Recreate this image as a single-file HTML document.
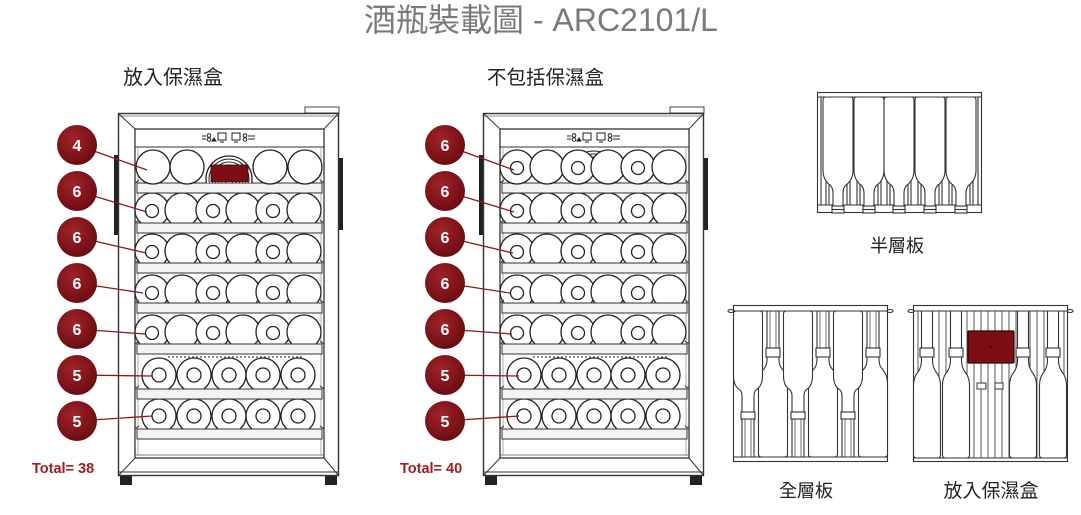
<!DOCTYPE html>
<html>
<head>
<meta charset="utf-8">
<style>
html,body{margin:0;padding:0;background:#fff;}
svg{display:block;}
.cjk{font-family:"Liberation Sans","Noto Sans CJK TC",sans-serif;}
</style>
</head>
<body>
<svg width="1081" height="515" viewBox="0 0 1081 515" xmlns="http://www.w3.org/2000/svg">
<defs>
  <radialGradient id="mg" cx="40%" cy="35%" r="70%">
    <stop offset="0" stop-color="#a0242a"/>
    <stop offset="1" stop-color="#6a0a0f"/>
  </radialGradient>
  <g id="row6" stroke="#222" stroke-width="1.3" fill="#fff">
    <circle cx="152" cy="0" r="17"/>
    <circle cx="182" cy="0" r="17"/>
    <circle cx="213" cy="0" r="17"/>
    <circle cx="243" cy="0" r="17"/>
    <circle cx="273" cy="0" r="17"/>
    <circle cx="304" cy="0" r="17"/>
    <circle cx="152" cy="1" r="6.5"/>
    <circle cx="213" cy="1" r="6.5"/>
    <circle cx="273" cy="1" r="6.5"/>
  </g>
  <g id="row5" stroke="#222" stroke-width="1.3" fill="#fff">
    <circle cx="159" cy="0" r="17"/>
    <circle cx="194" cy="0" r="17"/>
    <circle cx="229" cy="0" r="17"/>
    <circle cx="263" cy="0" r="17"/>
    <circle cx="298" cy="0" r="17"/>
    <circle cx="159" cy="0" r="7"/>
    <circle cx="194" cy="0" r="7"/>
    <circle cx="229" cy="0" r="7"/>
    <circle cx="263" cy="0" r="7"/>
    <circle cx="298" cy="0" r="7"/>
  </g>
  <g id="shelf" stroke="#444" stroke-width="1.1">
    <rect x="137" y="0" width="185" height="10" fill="#f3f3f3"/>
    <line x1="135" y1="0" x2="139" y2="-3" />
    <line x1="324" y1="0" x2="320" y2="-3" />
  </g>
  <g id="F">
    <rect x="305" y="107" width="34" height="6" fill="#fff" stroke="#444" stroke-width="1"/>
    <rect x="114" y="155" width="4" height="80" fill="#222"/>
    <rect x="339" y="158" width="4" height="72" fill="#222"/>
    <rect x="120" y="476" width="12" height="9" fill="#222"/>
    <rect x="325" y="476" width="12" height="9" fill="#222"/>
    <rect x="118.5" y="113.5" width="220" height="362" fill="#fff" stroke="#333" stroke-width="1.4"/>
    <line x1="119" y1="116" x2="338" y2="116" stroke="#666" stroke-width="0.8"/>
    <line x1="119" y1="472" x2="338" y2="472" stroke="#333" stroke-width="1"/>
    <rect x="135" y="129" width="189" height="329" fill="#fff" stroke="#333" stroke-width="1.3"/>
    <line x1="135" y1="455" x2="324" y2="455" stroke="#555" stroke-width="0.8"/>
    <line x1="118.5" y1="113.5" x2="135" y2="129" stroke="#333" stroke-width="1"/>
    <line x1="338.5" y1="113.5" x2="324" y2="129" stroke="#333" stroke-width="1"/>
    <line x1="118.5" y1="475.5" x2="135" y2="458" stroke="#333" stroke-width="1"/>
    <line x1="338.5" y1="475.5" x2="324" y2="458" stroke="#333" stroke-width="1"/>
    <line x1="135" y1="147" x2="324" y2="147" stroke="#333" stroke-width="1.1"/>
    <line x1="138" y1="147" x2="138" y2="455" stroke="#888" stroke-width="0.7"/>
    <line x1="321" y1="147" x2="321" y2="455" stroke="#888" stroke-width="0.7"/>
    <g stroke="#222" stroke-width="1" fill="none">
      <line x1="202" y1="136" x2="206" y2="136"/><line x1="202" y1="139" x2="206" y2="139"/>
      <circle cx="209" cy="135.5" r="1.8"/><circle cx="209" cy="139.5" r="1.8"/>
      <path d="M212,141 l2,-3 l2,3z" fill="#222"/>
      <rect x="218" y="133" width="8" height="7"/><line x1="220" y1="142" x2="224" y2="142"/>
      <rect x="232" y="133" width="8" height="7"/><line x1="234" y1="142" x2="238" y2="142"/>
      <circle cx="245" cy="135.5" r="1.8"/><circle cx="245" cy="139.5" r="1.8"/>
      <line x1="248" y1="136" x2="255" y2="136"/><line x1="248" y1="139" x2="255" y2="139"/>
    </g>
    <use href="#row6" y="210"/>
    <use href="#row6" y="251"/>
    <use href="#row6" y="292"/>
    <use href="#row6" y="332"/>
    <use href="#row5" y="375"/>
    <use href="#row5" y="416"/>
    <use href="#shelf" y="183"/>
    <use href="#shelf" y="223"/>
    <use href="#shelf" y="263"/>
    <use href="#shelf" y="303"/>
    <use href="#shelf" y="344"/>
    <use href="#shelf" y="389"/>
    <use href="#shelf" y="429"/>
    <line x1="168" y1="357" x2="304" y2="357" stroke="#444" stroke-width="1.2" stroke-dasharray="2 2"/>
  </g>
  <clipPath id="fanclip1"><rect x="205" y="147" width="48" height="36"/></clipPath>
  <clipPath id="fanclip2"><rect x="555" y="147" width="80" height="11"/></clipPath>

  <g id="hb" stroke="#333" stroke-width="1.1" fill="#fff">
    <path d="M-15,100 Q-15,97 -12,97 L12,97 Q15,97 15,100 L15,170 Q15,180 8,185 Q5,188 5,193 L5,207 L-5,207 L-5,193 Q-5,188 -8,185 Q-15,180 -15,170 Z"/>
    <line x1="-9" y1="184" x2="-9" y2="205"/><line x1="-12" y1="181" x2="-12" y2="205"/>
    <line x1="9" y1="184" x2="9" y2="205"/><line x1="12" y1="181" x2="12" y2="205"/>
    <rect x="-6" y="206" width="12" height="7"/>
    <line x1="-6" y1="209.5" x2="6" y2="209.5"/>
  </g>
  <g id="ub" stroke="#333" stroke-width="1.1" fill="#fff">
    <path d="M-14.5,314 Q-14.5,311 -11.5,311 L11.5,311 Q14.5,311 14.5,314 L14.5,376 Q14.5,386 8,390 Q6,392 6,396 L6,457 L-6,457 L-6,396 Q-6,392 -8,390 Q-14.5,386 -14.5,376 Z"/>
    <rect x="-7" y="412" width="14" height="7"/>
    <line x1="-3" y1="419" x2="-3" y2="457" stroke-width="0.7"/>
    <line x1="3" y1="419" x2="3" y2="457" stroke-width="0.7"/>
  </g>
  <g id="sb" stroke="#333" stroke-width="1.1" fill="#fff">
    <path d="M-6,311 L-6,360 Q-6,366 -10,370 Q-14.5,375 -14.5,384 L-14.5,454 Q-14.5,457 -11.5,457 L11.5,457 Q14.5,457 14.5,454 L14.5,384 Q14.5,375 10,370 Q6,366 6,360 L6,311 Z"/>
    <rect x="-7" y="348" width="14" height="9"/>
    <line x1="-3" y1="311" x2="-3" y2="348" stroke-width="0.7"/>
    <line x1="3" y1="311" x2="3" y2="348" stroke-width="0.7"/>
  </g>
  <g id="db" stroke="#333" stroke-width="1.1" fill="#fff">
    <path d="M-5.5,311 L-5.5,360 Q-5.5,367 -9,372 Q-13.5,377 -13.5,386 L-13.5,455 Q-13.5,458 -10.5,458 L10.5,458 Q13.5,458 13.5,455 L13.5,386 Q13.5,377 9,372 Q5.5,367 5.5,360 L5.5,311 Z"/>
    <rect x="-7" y="348" width="14" height="9"/>
  </g>
</defs>

<text x="541" y="31" text-anchor="middle" class="cjk" font-size="32" fill="#7a7a7a">酒瓶裝載圖 - ARC2101/L</text>
<text x="123" y="84" class="cjk" font-size="20" fill="#222">放入保濕盒</text>
<text x="487" y="84" class="cjk" font-size="19.5" fill="#222">不包括保濕盒</text>

<use href="#F"/>
<g stroke="#222" stroke-width="1.3" fill="#fff">
  <circle cx="153" cy="167" r="17"/>
  <circle cx="187" cy="167" r="17"/>
  <circle cx="270" cy="167" r="17"/>
  <circle cx="305" cy="167" r="17"/>
</g>
<g clip-path="url(#fanclip1)" stroke="#222" stroke-width="1" fill="none">
  <circle cx="229" cy="179" r="23" fill="#fff" stroke-width="1.3"/>
  <circle cx="229" cy="179" r="20"/>
  <circle cx="229" cy="179" r="17"/>
  <circle cx="229" cy="179" r="14"/>
  <circle cx="229" cy="179" r="11"/>
  <circle cx="229" cy="179" r="8"/>
  <circle cx="229" cy="179" r="5"/>
</g>
<rect x="211" y="165" width="37" height="17" fill="#7c0d13" stroke="#3a0508" stroke-width="0.8"/>

<use href="#F" x="365"/>
<g clip-path="url(#fanclip2)" stroke="#222" stroke-width="1" fill="none">
  <circle cx="594" cy="179" r="28"/>
  <circle cx="594" cy="179" r="25"/>
  <circle cx="594" cy="179" r="22"/>
  <circle cx="594" cy="179" r="19"/>
</g>
<use href="#row6" x="365" y="167"/>

<g stroke="#8b1a1f" stroke-width="1.3">
  <line x1="77" y1="145" x2="147" y2="170"/>
  <line x1="77" y1="191" x2="147" y2="212"/>
  <line x1="77" y1="237" x2="146" y2="253"/>
  <line x1="77" y1="283" x2="143" y2="293"/>
  <line x1="77" y1="329" x2="145" y2="334"/>
  <line x1="77" y1="375" x2="152" y2="376"/>
  <line x1="77" y1="421" x2="152" y2="416"/>
</g>
<g stroke="#8b1a1f" stroke-width="1.3">
  <line x1="445" y1="145" x2="514" y2="170"/>
  <line x1="445" y1="191" x2="514" y2="212"/>
  <line x1="445" y1="237" x2="513" y2="253"/>
  <line x1="445" y1="283" x2="510" y2="293"/>
  <line x1="445" y1="329" x2="512" y2="334"/>
  <line x1="445" y1="375" x2="519" y2="376"/>
  <line x1="445" y1="421" x2="519" y2="416"/>
</g>

<g font-family="Liberation Sans, sans-serif" font-weight="bold" font-size="16" fill="#fff" text-anchor="middle">
  <circle cx="77" cy="145" r="20" fill="url(#mg)"/><text x="77" y="151">4</text>
  <circle cx="77" cy="191" r="20" fill="url(#mg)"/><text x="77" y="197">6</text>
  <circle cx="77" cy="237" r="20" fill="url(#mg)"/><text x="77" y="243">6</text>
  <circle cx="77" cy="283" r="20" fill="url(#mg)"/><text x="77" y="289">6</text>
  <circle cx="77" cy="329" r="20" fill="url(#mg)"/><text x="77" y="335">6</text>
  <circle cx="77" cy="375" r="20" fill="url(#mg)"/><text x="77" y="381">5</text>
  <circle cx="77" cy="421" r="20" fill="url(#mg)"/><text x="77" y="427">5</text>

  <circle cx="445" cy="145" r="20" fill="url(#mg)"/><text x="445" y="151">6</text>
  <circle cx="445" cy="191" r="20" fill="url(#mg)"/><text x="445" y="197">6</text>
  <circle cx="445" cy="237" r="20" fill="url(#mg)"/><text x="445" y="243">6</text>
  <circle cx="445" cy="283" r="20" fill="url(#mg)"/><text x="445" y="289">6</text>
  <circle cx="445" cy="329" r="20" fill="url(#mg)"/><text x="445" y="335">6</text>
  <circle cx="445" cy="375" r="20" fill="url(#mg)"/><text x="445" y="381">5</text>
  <circle cx="445" cy="421" r="20" fill="url(#mg)"/><text x="445" y="427">5</text>
</g>

<text x="32" y="473" font-family="Liberation Sans, sans-serif" font-weight="bold" font-size="14.5" fill="#a11d21">Total= 38</text>
<text x="400" y="473" font-family="Liberation Sans, sans-serif" font-weight="bold" font-size="14.5" fill="#a11d21">Total= 40</text>

<g stroke="#333" stroke-width="1.1" fill="none">
  <rect x="817.5" y="92.5" width="164" height="120" fill="#fff"/>
  <line x1="821" y1="97" x2="821" y2="205"/>
  <line x1="978" y1="97" x2="978" y2="205"/>
  <line x1="817" y1="97" x2="982" y2="97"/>
  <line x1="817" y1="205" x2="982" y2="205"/>
</g>
<use href="#hb" x="838"/>
<use href="#hb" x="869"/>
<use href="#hb" x="899"/>
<use href="#hb" x="930"/>
<use href="#hb" x="961"/>
<text x="897" y="252" text-anchor="middle" class="cjk" font-size="18" fill="#222">半層板</text>

<g stroke="#333" stroke-width="1.1" fill="none">
  <rect x="733.5" y="305.5" width="154" height="156" fill="#fff"/>
  <line x1="733" y1="311" x2="888" y2="311"/>
  <line x1="733" y1="457" x2="888" y2="457"/>
  <ellipse cx="731" cy="311" rx="3" ry="1.5"/>
  <ellipse cx="890" cy="311" rx="3" ry="1.5"/>
</g>
<use href="#sb" x="773"/>
<use href="#sb" x="823"/>
<use href="#sb" x="873"/>
<use href="#ub" x="748"/>
<use href="#ub" x="798"/>
<use href="#ub" x="848"/>
<text x="806" y="497" text-anchor="middle" class="cjk" font-size="18" fill="#222">全層板</text>

<g stroke="#333" stroke-width="1.1" fill="none">
  <rect x="913.5" y="305.5" width="154" height="156" fill="#fff"/>
  <line x1="913" y1="311" x2="1068" y2="311"/>
  <line x1="913" y1="458" x2="1068" y2="458"/>
  <ellipse cx="911" cy="311" rx="3" ry="1.5"/>
  <ellipse cx="1070" cy="311" rx="3" ry="1.5"/>
</g>
<g stroke="#444" stroke-width="0.9">
  <line x1="918" y1="311" x2="918" y2="458"/>
  <line x1="925" y1="311" x2="925" y2="458"/>
  <line x1="932" y1="311" x2="932" y2="458"/>
  <line x1="939" y1="311" x2="939" y2="458"/>
  <line x1="946" y1="311" x2="946" y2="458"/>
  <line x1="953" y1="311" x2="953" y2="458"/>
  <line x1="960" y1="311" x2="960" y2="458"/>
  <line x1="967" y1="311" x2="967" y2="458"/>
  <line x1="974" y1="311" x2="974" y2="458"/>
  <line x1="981" y1="311" x2="981" y2="458"/>
  <line x1="988" y1="311" x2="988" y2="458"/>
  <line x1="995" y1="311" x2="995" y2="458"/>
  <line x1="1002" y1="311" x2="1002" y2="458"/>
  <line x1="1009" y1="311" x2="1009" y2="458"/>
  <line x1="1016" y1="311" x2="1016" y2="458"/>
  <line x1="1023" y1="311" x2="1023" y2="458"/>
  <line x1="1030" y1="311" x2="1030" y2="458"/>
  <line x1="1037" y1="311" x2="1037" y2="458"/>
  <line x1="1044" y1="311" x2="1044" y2="458"/>
  <line x1="1051" y1="311" x2="1051" y2="458"/>
  <line x1="1058" y1="311" x2="1058" y2="458"/>
  <line x1="1064" y1="311" x2="1064" y2="458"/>
</g>
<g stroke="#333" stroke-width="1" fill="#fff">
  <rect x="977" y="383" width="9" height="6"/>
  <rect x="995" y="383" width="8" height="6"/>
</g>
<use href="#db" x="927"/>
<use href="#db" x="956"/>
<use href="#db" x="1023"/>
<use href="#db" x="1053"/>
<rect x="968" y="331" width="46" height="32" rx="1" fill="#7d0e14" stroke="#2a0306" stroke-width="1.2"/>
<circle cx="991" cy="347" r="1.2" fill="#3a0508"/>
<text x="991" y="497" text-anchor="middle" class="cjk" font-size="19" fill="#222">放入保濕盒</text>
</svg>
</body>
</html>
